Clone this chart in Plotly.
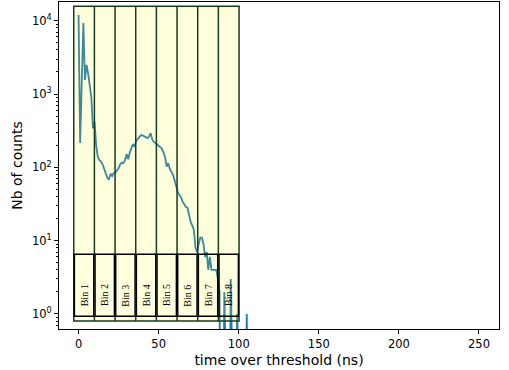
import numpy as np
import plotly.graph_objects as go

# time over threshold histogram (ns -> counts)
tot_ns = list(range(0, 111))
counts = [
    12000, 215, 1400, 9300, 1550, 2500, 1900, 1300, 900, 340,
    420, 200, 140, 125, 120, 110, 95, 82, 72, 68,
    82, 76, 84, 85, 92, 97, 110, 116, 114, 125,
    152, 129, 160, 180, 207, 190, 232, 245, 262, 275,
    272, 262, 258, 250, 262, 292, 240, 222, 215, 205,
    200, 190, 180, 160, 140, 102, 114, 95, 85, 79,
    66, 55, 46, 42, 39, 34, 31, 29, 28, 22,
    18, 16, 14, 8, 7, 9, 11, 11, 9, 6,
    7, 4, 6, 4, 4, 4, 4, 3, 2, 0,
    0, 2, 0, 0, 0, 3, 0, 0, 0, 1,
    0, 0, 0, 0, 0, 1, 0, 0, 0, 0,
    0,
]

# ToT bins drawn on top of the histogram
bin_edges = [-3, 9.9, 22.8, 35.7, 48.6, 61.5, 74.4, 87.3, 100.2]
bin_labels = ["Bin 1", "Bin 2", "Bin 3", "Bin 4", "Bin 5", "Bin 6", "Bin 7", "Bin 8"]
band_low, band_high = 0.8, 15700
box_low, box_high = 0.93, 6.5

# zeros are clipped to a tiny value on the log axis (like matplotlib does)
y_plot = [c if c > 0 else 1e-3 for c in counts]

# minor ticks of the log axis
minor_vals = [m * 10 ** k for k in range(-1, 5) for m in range(2, 10)]

fig = go.Figure()
fig.add_trace(go.Scatter(
    x=tot_ns, y=y_plot, mode="lines",
    line=dict(color="#1f77b4", width=1.8),
    showlegend=False,
))

# yellow band over the bins
fig.add_shape(type="rect", xref="x", yref="y",
              x0=bin_edges[0], x1=bin_edges[-1], y0=band_low, y1=band_high,
              fillcolor="rgba(255,255,0,0.13)", line=dict(color="#143c1e", width=1.5),
              layer="above")

# bin separators, hidden behind the label boxes
for edge in bin_edges[1:-1]:
    for y0, y1 in [(band_low, box_low), (box_high, band_high)]:
        fig.add_shape(type="line", xref="x", yref="y",
                      x0=edge, x1=edge, y0=y0, y1=y1,
                      line=dict(color="#143c1e", width=1.5), layer="above")

for i, label in enumerate(bin_labels):
    left, right = bin_edges[i], bin_edges[i + 1]
    fig.add_shape(type="rect", xref="x", yref="y",
                  x0=left + 0.4, x1=right - 0.4, y0=box_low, y1=box_high,
                  fillcolor="rgba(0,0,0,0)", line=dict(color="black", width=1.5),
                  layer="above")
    fig.add_annotation(x=(left + right) / 2, y=np.log10(1.8), text=label,
                       textangle=-90, showarrow=False,
                       font=dict(family="Liberation Serif", size=10, color="black"))

fig.update_layout(
    width=509, height=370,
    plot_bgcolor="white", paper_bgcolor="white",
    font=dict(family="DejaVu Sans", size=11.5, color="black"),
    margin=dict(l=59, r=10, t=2, b=41),
    showlegend=False,
)

fig.update_xaxes(
    range=[-12.2, 262.5], showgrid=False, zeroline=False, automargin=False,
    tickvals=[0, 50, 100, 150, 200, 250],
    ticks="outside", ticklen=4, tickcolor="black",
    showline=True, linecolor="black", linewidth=1, mirror=True,
    title=dict(text="time over threshold (ns)", standoff=5),
)
fig.update_yaxes(
    type="log", range=[-0.205, 4.255], showgrid=False, zeroline=False, automargin=False,
    tickvals=[1, 10, 100, 1000, 10000],
    ticktext=["10<sup>0</sup>", "10<sup>1</sup>", "10<sup>2</sup>",
              "10<sup>3</sup>", "10<sup>4</sup>"],
    ticks="outside", ticklen=4, tickcolor="black",
    minor=dict(ticks="outside", ticklen=2, tickcolor="black", tickvals=minor_vals),
    showline=True, linecolor="black", linewidth=1, mirror=True,
    title=dict(text="Nb of counts", standoff=6),
)

# drop the default page margin so the figure sits at the window corner
fig.write_html("out.html", config={"displayModeBar": False},
               post_script="document.body.style.margin = '0';")
